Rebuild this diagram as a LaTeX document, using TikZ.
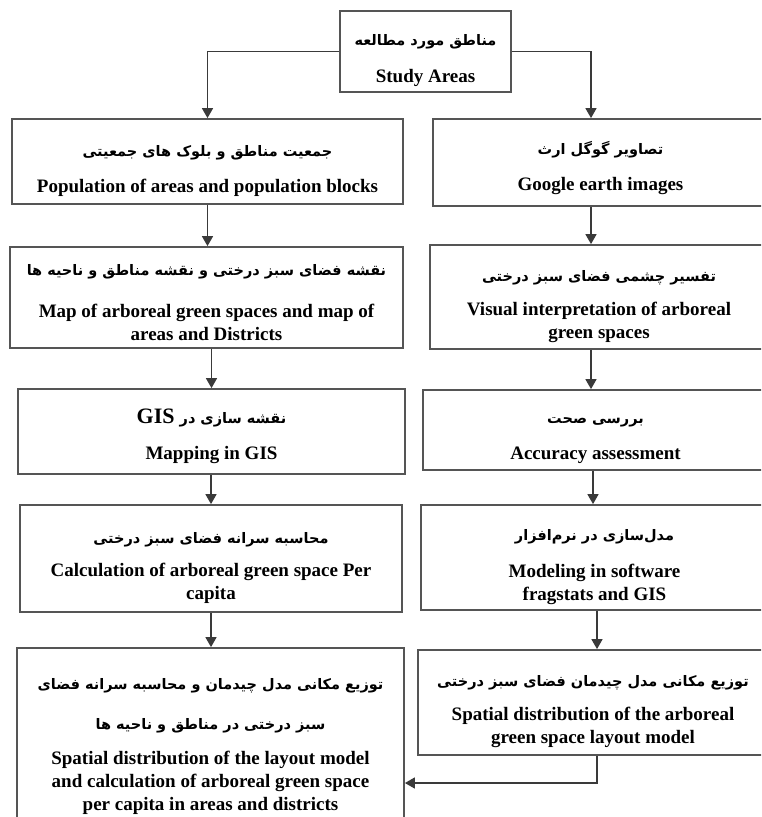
\documentclass[tikz,border=0pt]{standalone}
\usepackage{fontspec}
\setmainfont{Liberation Serif}
\newfontfamily\fafont[Script=Arabic]{DejaVu Sans}
\TeXXeTstate=1
\usetikzlibrary{arrows.meta}
\definecolor{framegray}{HTML}{555555}
\definecolor{linkgray}{HTML}{3A3A3A}
\newcommand{\fa}[1]{{\fafont\bfseries\fontsize{14.5}{20}\selectfont\beginR #1\endR}}
\newcommand{\pad}[1][30pt]{\rule{0pt}{#1}}

\begin{document}
\begin{tikzpicture}[x=1pt, y=-1pt,
    box/.style={draw=framegray, line width=1.8pt, fill=white, align=center,
        inner sep=0pt, font=\bfseries\fontsize{19}{23}\selectfont},
    link/.style={draw=linkgray, line width=1.6pt, -{Triangle[width=11pt,length=10pt]}}]
    \useasboundingbox (0,0) rectangle (761,817);
    \clip (0,0) rectangle (761,817);

    \node[box, minimum width=171, minimum height=81] (area) at (425.5,51.5)
        {\pad\fa{مناطق مورد مطالعه}\\[14pt] Study Areas};

    % left column
    \node[box, minimum width=391, minimum height=85] (pop) at (207.5,161.5)
        {\pad\fa{جمعیت مناطق و بلوک های جمعیتی}\\[13pt] Population of areas and population blocks};
    \node[box, minimum width=393, minimum height=101] (map) at (206.5,297.5)
        {\pad[22pt]\fa{نقشه فضای سبز درختی و نقشه مناطق و ناحیه ها}\\[19pt] Map of arboreal green spaces and map of\\ areas and Districts};
    \node[box, minimum width=387, minimum height=85] (gis) at (211.5,431.5)
        {\pad[24pt]\fa{نقشه سازی در \beginL{\rmfamily\fontsize{22}{24}\selectfont GIS}\endL}\\[13pt] Mapping in GIS};
    \node[box, minimum width=382, minimum height=107] (percap) at (211,558.5)
        {\pad\fa{محاسبه سرانه فضای سبز درختی}\\[10pt] Calculation of arboreal green space Per\\ capita};
    \node[box, minimum width=387, minimum height=178] (final) at (210.5,737)
        {\pad\fa{توزیع مکانی مدل چیدمان و محاسبه سرانه فضای}\\[17pt]
         \fa{سبز درختی در مناطق و ناحیه ها}\\[12pt]
         Spatial distribution of the layout model\\ and calculation of arboreal green space\\ per capita in areas and districts};

    % right column
    \node[box, minimum width=335, minimum height=87] (google) at (600.5,162.5)
        {\pad[24pt]\fa{تصاویر گوگل ارث}\\[13pt] Google earth images};
    \node[box, minimum width=338, minimum height=104] (visual) at (599,297)
        {\pad\fa{تفسیر چشمی فضای سبز درختی}\\[11pt] Visual interpretation of arboreal\\ green spaces};
    \node[box, minimum width=345, minimum height=80] (acc) at (595.5,430)
        {\pad[28pt]\fa{بررسی صحت}\\[13pt] Accuracy assessment};
    \node[box, minimum width=347, minimum height=105] (model) at (594.5,557.5)
        {\pad\fa{مدل‌سازی در نرم‌افزار}\\[14pt] Modeling in software\\ fragstats and GIS};
    \node[box, minimum width=350, minimum height=105] (layout) at (593,702.5)
        {\pad\fa{توزیع مکانی مدل چیدمان فضای سبز درختی}\\[11pt] Spatial distribution of the arboreal\\ green space layout model};

    \coordinate (ra) at (591,0);
    \coordinate (rb) at (593,0);
    \coordinate (rc) at (597,0);
    \coordinate (back) at (597,783);

    \draw[link] (area.west) -| (pop.north);
    \draw[link] (area.east) -| (ra |- google.north);
    \draw[link] (pop.south) -- (pop.south |- map.north);
    \draw[link] (gis.north |- map.south) -- (gis.north);
    \draw[link] (percap.north |- gis.south) -- (percap.north);
    \draw[link] (percap.south) -- (percap.south |- final.north);
    \draw[link] (ra |- google.south) -- (ra |- visual.north);
    \draw[link] (ra |- visual.south) -- (ra |- acc.north);
    \draw[link] (rb |- acc.south) -- (rb |- model.north);
    \draw[link] (rc |- model.south) -- (rc |- layout.north);
    \draw[link] (rc |- layout.south) -- (back) -- (final.east |- back);
\end{tikzpicture}
\end{document}
